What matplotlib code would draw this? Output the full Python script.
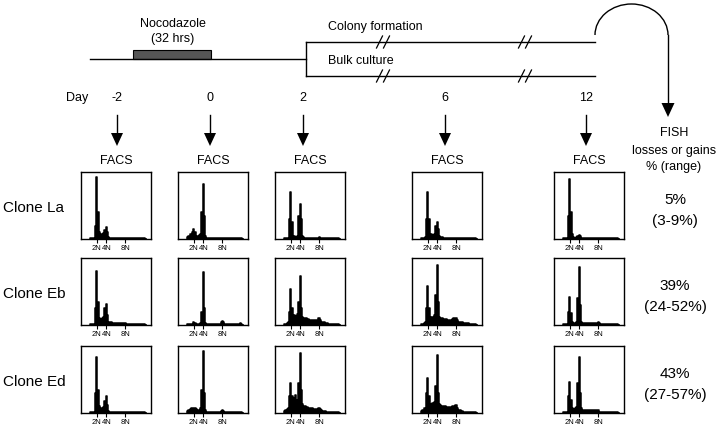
import numpy as np
import matplotlib.pyplot as plt
from matplotlib.patches import Rectangle, Arc

plt.rcParams['font.family'] = ['Liberation Sans', 'DejaVu Sans']

# DNA content bins (in N units), 0.25 wide, from 0.5 to 12.25
bins = np.arange(48) * 0.25 + 0.5

days = ['-2', '0', '2', '6', '12']
clones = ['Clone La', 'Clone Eb', 'Clone Ed']
fish_pct = ['5%', '39%', '43%']
fish_range = ['(3-9%)', '(24-52%)', '(27-57%)']
ploidy_ticks = [2, 4, 8]
ploidy_labels = ['2N', '4N', '8N']

# FACS histograms, % of panel height per bin (rows of 8 bins)
la_m2 = [1, 1, 1, 2, 2, 20, 92, 40,
         10, 8, 8, 8, 9, 14, 18, 10,
         3, 2, 2, 2, 2, 2, 1, 2,
         1, 2, 1, 2, 1, 1, 2, 1,
         1, 1, 2, 1, 1, 1, 1, 2,
         1, 1, 1, 1, 1, 1, 1, 0]
la_0 = [2, 3, 5, 7, 5, 10, 15, 10,
        5, 5, 5, 6, 8, 40, 82, 35,
        5, 2, 2, 2, 2, 2, 2, 2,
        2, 2, 1, 2, 2, 2, 2, 2,
        1, 2, 1, 1, 2, 1, 1, 1,
        1, 1, 1, 1, 1, 1, 1, 0]
la_2 = [1, 1, 1, 1, 2, 30, 70, 25,
        5, 4, 3, 3, 5, 35, 52, 30,
        5, 3, 2, 2, 2, 2, 2, 2,
        2, 2, 2, 2, 2, 2, 3, 2,
        2, 1, 2, 1, 1, 1, 1, 1,
        1, 1, 1, 1, 1, 1, 1, 0]
la_6 = [1, 1, 1, 2, 3, 30, 70, 30,
        8, 7, 6, 6, 8, 20, 26, 15,
        4, 3, 3, 2, 2, 2, 2, 2,
        2, 2, 2, 2, 2, 2, 2, 2,
        2, 2, 1, 2, 1, 1, 2, 1,
        1, 1, 1, 1, 1, 1, 1, 0]
la_12 = [1, 1, 1, 1, 2, 35, 90, 40,
         8, 3, 2, 2, 3, 4, 6, 4,
         2, 2, 2, 1, 2, 1, 1, 1,
         1, 1, 1, 1, 1, 1, 1, 1,
         1, 1, 1, 1, 1, 1, 1, 1,
         1, 1, 1, 1, 1, 1, 1, 0]

eb_m2 = [1, 1, 1, 1, 2, 25, 80, 35,
         10, 9, 9, 10, 12, 25, 32, 15,
         5, 4, 4, 3, 3, 3, 3, 3,
         3, 3, 3, 3, 3, 3, 3, 2,
         1, 1, 1, 1, 1, 1, 1, 1,
         1, 1, 1, 1, 1, 1, 1, 0]
eb_0 = [1, 1, 1, 1, 1, 2, 4, 3,
        2, 2, 2, 2, 3, 20, 79, 25,
        3, 2, 2, 2, 2, 2, 2, 2,
        2, 2, 2, 2, 2, 4, 6, 4,
        2, 2, 1, 1, 1, 1, 1, 1,
        1, 1, 1, 1, 1, 3, 1, 0]
eb_2 = [1, 1, 2, 3, 4, 20, 54, 25,
        15, 15, 14, 14, 16, 35, 73, 25,
        12, 11, 10, 10, 9, 9, 8, 8,
        7, 7, 7, 7, 8, 10, 11, 8,
        5, 4, 4, 3, 3, 3, 2, 2,
        2, 2, 2, 2, 1, 1, 1, 0]
eb_6 = [1, 1, 2, 3, 4, 25, 58, 25,
        12, 11, 12, 12, 15, 45, 90, 35,
        12, 10, 10, 9, 9, 9, 9, 8,
        8, 8, 8, 9, 10, 11, 11, 8,
        5, 4, 4, 4, 3, 3, 3, 3,
        3, 2, 2, 2, 2, 2, 1, 0]
eb_12 = [1, 1, 1, 1, 2, 20, 42, 18,
         4, 3, 3, 3, 5, 40, 86, 30,
         5, 3, 3, 3, 3, 3, 3, 3,
         3, 3, 3, 3, 3, 3, 4, 3,
         2, 2, 1, 1, 1, 1, 1, 1,
         1, 1, 1, 1, 1, 1, 1, 0]

ed_m2 = [1, 1, 1, 1, 2, 30, 84, 35,
         10, 7, 7, 8, 9, 18, 25, 12,
         3, 2, 2, 2, 2, 2, 2, 1,
         1, 1, 1, 1, 1, 1, 1, 1,
         1, 1, 1, 1, 1, 1, 1, 1,
         1, 1, 1, 1, 1, 1, 1, 0]
ed_0 = [2, 3, 5, 6, 7, 8, 8, 7,
        6, 5, 5, 5, 7, 35, 93, 30,
        5, 2, 2, 2, 2, 2, 2, 2,
        2, 2, 2, 2, 2, 3, 5, 3,
        1, 1, 1, 1, 1, 1, 1, 1,
        1, 1, 1, 1, 1, 1, 1, 0]
ed_2 = [2, 3, 5, 6, 8, 25, 45, 25,
        18, 22, 27, 18, 20, 45, 89, 35,
        14, 11, 10, 9, 9, 8, 8, 7,
        7, 6, 6, 6, 6, 7, 8, 6,
        4, 3, 3, 3, 2, 2, 2, 2,
        2, 2, 2, 1, 1, 1, 1, 0]
ed_6 = [2, 3, 5, 7, 8, 30, 52, 25,
        14, 14, 15, 15, 16, 40, 87, 30,
        13, 12, 11, 11, 10, 10, 9, 9,
        9, 9, 9, 10, 11, 12, 12, 8,
        5, 4, 3, 3, 2, 2, 2, 2,
        2, 2, 2, 2, 1, 1, 1, 0]
ed_12 = [1, 1, 1, 1, 2, 25, 46, 20,
         7, 6, 6, 7, 9, 45, 84, 30,
         7, 5, 5, 5, 5, 5, 5, 5,
         5, 5, 5, 5, 5, 5, 5, 2,
         1, 1, 1, 1, 1, 1, 1, 1,
         1, 1, 1, 1, 1, 1, 1, 0]

facs = [[la_m2, la_0, la_2, la_6, la_12],
        [eb_m2, eb_0, eb_2, eb_6, eb_12],
        [ed_m2, ed_0, ed_2, ed_6, ed_12]]

# layout in pixels
W, H = 720, 430
day_x = [117, 210, 303, 445, 586]
col_left = [81, 178, 275, 412, 554]
row_top = [172, 258, 346]
bw, bh = 70, 67

fig = plt.figure(figsize=(7.2, 4.3), dpi=100)
bg = fig.add_axes([0, 0, 1, 1])
bg.set_xlim(0, W)
bg.set_ylim(H, 0)
bg.axis('off')

lw = 1.0
# timeline
bg.plot([90, 306], [59, 59], color='black', lw=lw)
bg.add_patch(Rectangle((133, 50), 78, 9, facecolor='#555555', edgecolor='black', lw=0.8))
bg.text(173, 24, 'Nocodazole', ha='center', va='center', fontsize=9)
bg.text(173, 39, '(32 hrs)', ha='center', va='center', fontsize=9)
bg.plot([306, 306], [42, 76], color='black', lw=lw)
for y in [42, 76]:
    bg.plot([306, 595], [y, y], color='black', lw=lw)
    for xb in [383, 525]:
        for dx in [-3.5, 3.5]:
            bg.plot([xb + dx - 3, xb + dx + 3], [y + 6, y - 6], color='black', lw=0.9)
bg.text(328, 27, 'Colony formation', ha='left', va='center', fontsize=9)
bg.text(328, 61, 'Bulk culture', ha='left', va='center', fontsize=9)

# loop to FISH
bg.add_patch(Arc((631.5, 35), 73, 62, theta1=180, theta2=360, color='black', lw=lw))
bg.plot([668, 668], [35, 104], color='black', lw=lw)
bg.fill([661.5, 674.5, 668], [103, 103, 117], color='black', lw=0)

# day labels and arrows
bg.text(77, 98, 'Day', ha='center', va='center', fontsize=9)
for x, d in zip(day_x, days):
    bg.text(x, 98, d, ha='center', va='center', fontsize=9)
    bg.plot([x, x], [115, 134], color='black', lw=lw)
    bg.fill([x - 6, x + 6, x], [133, 133, 146], color='black', lw=0)

for cl in col_left:
    bg.text(cl + bw / 2, 161, 'FACS', ha='center', va='center', fontsize=9)

bg.text(674, 133, 'FISH', ha='center', va='center', fontsize=9)
bg.text(674, 151, 'losses or gains', ha='center', va='center', fontsize=9)
bg.text(674, 167, '% (range)', ha='center', va='center', fontsize=9)

for r, top in enumerate(row_top):
    yc = top + bh / 2
    bg.text(3, yc + 3, clones[r], ha='left', va='center', fontsize=11)
    bg.text(675, yc - 6, fish_pct[r], ha='center', va='center', fontsize=11)
    bg.text(675, yc + 15, fish_range[r], ha='center', va='center', fontsize=11)

    for c, left in enumerate(col_left):
        ax = fig.add_axes([left / W, 1 - (top + bh) / H, bw / W, bh / H])
        ax.fill_between(bins, facs[r][c], step='mid', facecolor='black',
                        edgecolor='black', lw=1.1)
        ax.set_xlim(-1.29, 13.37)
        ax.set_ylim(0, 100)
        ax.set_yticks([])
        ax.set_xticks(ploidy_ticks)
        ax.set_xticklabels(ploidy_labels, fontsize=5.5)
        ax.tick_params(axis='x', direction='out', length=3, width=0.8, pad=1.5)
        for s in ax.spines.values():
            s.set_linewidth(1.0)

fig.savefig('out.png', dpi=100)
